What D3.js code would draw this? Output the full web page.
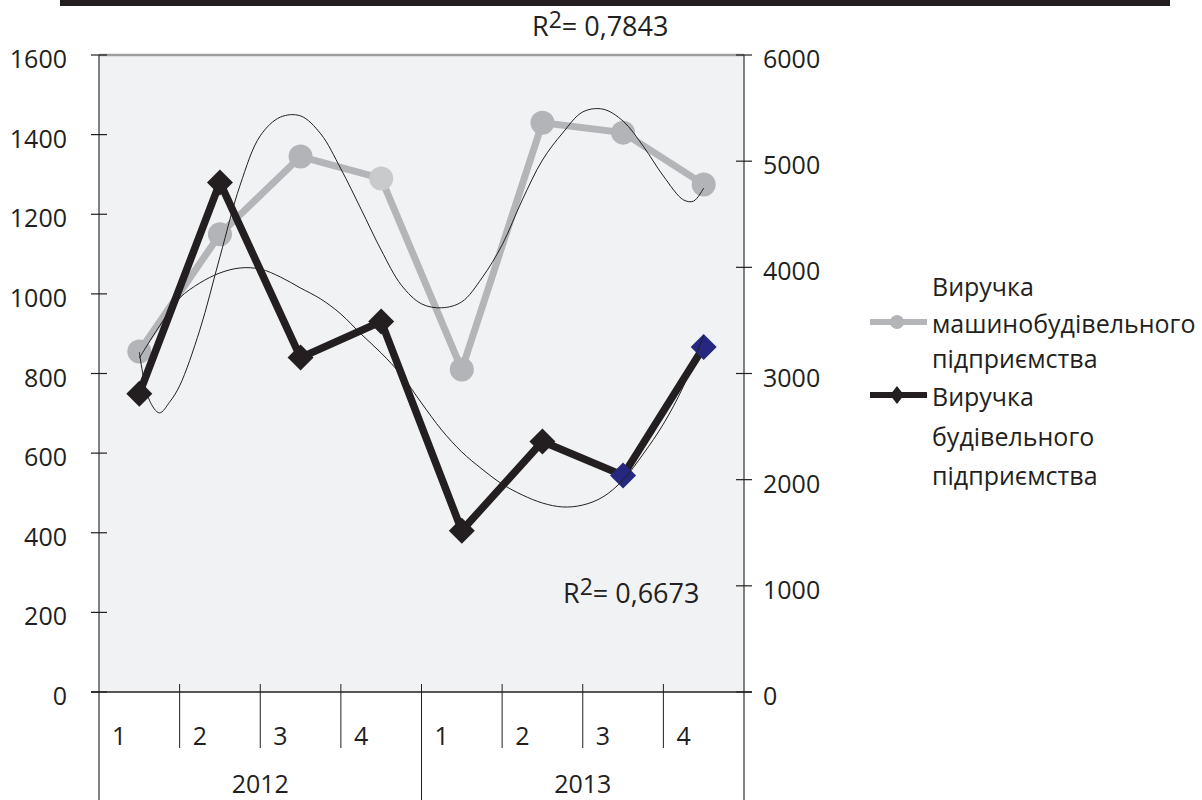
<!DOCTYPE html>
<html>
<head>
<meta charset="utf-8">
<script src="https://cdn.jsdelivr.net/npm/d3@7"></script>
<style>
  html, body { margin: 0; padding: 0; background: #fff; }
  svg { display: block; }
  text { font-family: "Open Sans", "Noto Sans", sans-serif; fill: #231f20; }
</style>
</head>
<body>
<svg id="chart" width="1202" height="800"></svg>
<script>
// ---- Data ----
const quarters = ["1", "2", "3", "4", "1", "2", "3", "4"];
const years = ["2012", "2013"];
const machineRevenue = [855, 1150, 1345, 1290, 810, 1430, 1405, 1275];      // left axis
const constructionRevenue = [2810, 4800, 3150, 3490, 1520, 2360, 2040, 3250]; // right axis
const leftTicks = [0, 200, 400, 600, 800, 1000, 1200, 1400, 1600];
const rightTicks = [0, 1000, 2000, 3000, 4000, 5000, 6000];
const seriesNames = [["Виручка", "машинобудівельного", "підприємства"],
                     ["Виручка", "будівельного", "підприємства"]];
const r2Machine = "0,7843";
const r2Construction = "0,6673";
// trendline samples (category position, value)
const trendMachineX = [1, 1.125, 1.25, 1.375, 1.5, 1.75, 2, 2.25, 2.5, 2.75, 3, 3.25, 3.5, 3.75, 4, 4.25, 4.5, 4.75, 5, 5.25, 5.5, 5.75, 6, 6.25, 6.5, 6.75, 7, 7.25, 7.5, 7.75, 7.875, 8];
const trendMachineY = [854, 733, 701, 728, 769, 909, 1093, 1273, 1397, 1444, 1447, 1402, 1314, 1213, 1110, 1022, 975, 965, 980, 1040, 1123, 1236, 1336, 1404, 1457, 1464, 1434, 1371, 1296, 1236, 1233, 1266];
const trendConstrX = [1, 1.25, 1.5, 1.75, 2, 2.25, 2.5, 2.75, 3, 3.25, 3.5, 3.75, 4, 4.25, 4.5, 4.75, 5, 5.25, 5.5, 5.75, 6, 6.25, 6.5, 6.75, 7, 7.25, 7.5, 7.75, 8];
const trendConstrY = [3146, 3447, 3711, 3852, 3947, 3994, 3984, 3909, 3805, 3702, 3560, 3372, 3193, 2986, 2722, 2468, 2261, 2100, 1959, 1856, 1780, 1743, 1761, 1837, 1997, 2242, 2524, 2882, 3363];

// ---- Styles ----
const grayLine = "#b4b5b8";
const machinePointColors = ["#b3b4b7", "#b3b4b7", "#b3b4b7", "#c9cacc", "#b3b4b7", "#b3b4b7", "#b3b4b7", "#b3b4b7"];
const darkLine = "#231f20";
const constrPointColors = ["#231f20", "#231f20", "#231f20", "#231f20", "#231f20", "#231f20", "#25287e", "#25287e"];
const FS = 25;
const FS_R2 = 27;

const svg = d3.select("#chart");
const L = 99, R = 744, T = 55, B = 692;

const x = d3.scaleBand().domain(d3.range(quarters.length)).range([L, R]).padding(0);
const bw = x.bandwidth();
const cx = i => x(i) + bw / 2;
const xt = d3.scaleLinear().domain([1, quarters.length]).range([cx(0), cx(quarters.length - 1)]);
const yL = d3.scaleLinear().domain([0, 1600]).range([B, T]);
const yR = d3.scaleLinear().domain([0, 6000]).range([B, T]);

// top black rule
svg.append("rect").attr("x", 60).attr("y", 0).attr("width", 1110).attr("height", 6).attr("fill", "#231f20");

// plot background
svg.append("rect").attr("x", L).attr("y", T).attr("width", R - L).attr("height", B - T).attr("fill", "#f1f2f4");
svg.append("line").attr("x1", L).attr("x2", R).attr("y1", T).attr("y2", T).attr("stroke", "#9d9ea0").attr("stroke-width", 2.5);

// left axis
svg.append("line").attr("x1", L).attr("x2", L).attr("y1", T).attr("y2", 800).attr("stroke", "#58595b").attr("stroke-width", 1.5);
svg.selectAll(".lt").data(leftTicks).enter().append("line")
  .attr("x1", L - 8).attr("x2", L + 8).attr("y1", d => yL(d)).attr("y2", d => yL(d))
  .attr("stroke", "#231f20").attr("stroke-width", 1.2);
svg.selectAll(".ltl").data(leftTicks).enter().append("text")
  .attr("x", 67).attr("y", d => yL(d) + 3).attr("text-anchor", "end")
  .attr("dominant-baseline", "central").attr("font-size", FS).text(d => d);

// right axis
svg.append("line").attr("x1", R).attr("x2", R).attr("y1", T).attr("y2", 800).attr("stroke", "#58595b").attr("stroke-width", 1.5);
svg.selectAll(".rt").data(rightTicks).enter().append("line")
  .attr("x1", R - 8).attr("x2", R + 8).attr("y1", d => yR(d)).attr("y2", d => yR(d))
  .attr("stroke", "#231f20").attr("stroke-width", 1.2);
svg.selectAll(".rtl").data(rightTicks).enter().append("text")
  .attr("x", 763).attr("y", d => yR(d) + 3).attr("text-anchor", "start")
  .attr("dominant-baseline", "central").attr("font-size", FS).text(d => d);

// bottom axis
svg.append("line").attr("x1", L - 8).attr("x2", R + 8).attr("y1", B).attr("y2", B).attr("stroke", "#231f20").attr("stroke-width", 1.5);
// quarter separators
svg.selectAll(".qs").data(d3.range(1, quarters.length).filter(i => i !== 4)).enter().append("line")
  .attr("x1", d => x(d)).attr("x2", d => x(d)).attr("y1", B - 8).attr("y2", 748)
  .attr("stroke", "#231f20").attr("stroke-width", 1);
// year separator in the middle
svg.append("line").attr("x1", x(4)).attr("x2", x(4)).attr("y1", B - 8).attr("y2", 800).attr("stroke", "#231f20").attr("stroke-width", 1);
svg.selectAll(".ql").data(quarters).enter().append("text")
  .attr("x", (d, i) => x(i) + 13).attr("y", 735).attr("dominant-baseline", "central")
  .attr("font-size", FS).text(d => d);
svg.selectAll(".yl").data(years).enter().append("text")
  .attr("x", (d, i) => (x(i * 4) + (i * 4 + 4 < quarters.length ? x(i * 4 + 4) : R)) / 2)
  .attr("y", 783).attr("text-anchor", "middle").attr("dominant-baseline", "central")
  .attr("font-size", FS).text(d => d);

// series lines
const lineL = d3.line().x((d, i) => cx(i)).y(d => yL(d));
const lineR = d3.line().x((d, i) => cx(i)).y(d => yR(d));
svg.append("path").datum(machineRevenue).attr("d", lineL).attr("fill", "none")
  .attr("stroke", grayLine).attr("stroke-width", 7).attr("stroke-linejoin", "round");
svg.selectAll(".mp").data(machineRevenue).enter().append("circle")
  .attr("cx", (d, i) => cx(i)).attr("cy", d => yL(d)).attr("r", 12)
  .attr("fill", (d, i) => machinePointColors[i]);

svg.append("path").datum(constructionRevenue).attr("d", lineR).attr("fill", "none")
  .attr("stroke", darkLine).attr("stroke-width", 7.5).attr("stroke-linejoin", "miter");
const dia = (px, py, w, h) => `M${px},${py - h}L${px + w},${py}L${px},${py + h}L${px - w},${py}Z`;
svg.selectAll(".cp").data(constructionRevenue).enter().append("path")
  .attr("d", (d, i) => dia(cx(i), yR(d), 13, 13))
  .attr("fill", (d, i) => constrPointColors[i]);

// trendlines
const tL = d3.line().x(d => xt(d[0])).y(d => yL(d[1])).curve(d3.curveCatmullRom);
const tR = d3.line().x(d => xt(d[0])).y(d => yR(d[1])).curve(d3.curveCatmullRom);
svg.append("path").datum(d3.zip(trendMachineX, trendMachineY)).attr("d", tL)
  .attr("fill", "none").attr("stroke", "#231f20").attr("stroke-width", 1);
svg.append("path").datum(d3.zip(trendConstrX, trendConstrY)).attr("d", tR)
  .attr("fill", "none").attr("stroke", "#231f20").attr("stroke-width", 1);

// R² labels
function r2Label(xPos, yPos, val) {
  const t = svg.append("text").attr("x", xPos).attr("y", yPos).attr("font-size", FS_R2);
  t.append("tspan").text("R");
  t.append("tspan").attr("dy", -8).attr("font-size", FS_R2 * 0.85).text("2");
  t.append("tspan").attr("dy", 8).text("= " + val);
}
r2Label(532, 36, r2Machine);
r2Label(563, 603, r2Construction);

// legend
const lg = svg.append("g");
lg.append("line").attr("x1", 870).attr("x2", 927).attr("y1", 322).attr("y2", 322).attr("stroke", grayLine).attr("stroke-width", 6);
lg.append("circle").attr("cx", 897).attr("cy", 322).attr("r", 7).attr("fill", "#b3b4b7");
lg.append("line").attr("x1", 870).attr("x2", 927).attr("y1", 395).attr("y2", 395).attr("stroke", darkLine).attr("stroke-width", 6);
lg.append("path").attr("d", dia(897, 395, 7, 9)).attr("fill", darkLine);
const legendBaselines = [[296, 333, 368], [406, 446, 485]];
seriesNames.forEach((lines, si) => {
  lines.forEach((ln, li) => {
    lg.append("text").attr("x", 932).attr("y", legendBaselines[si][li]).attr("font-size", FS).text(ln);
  });
});
</script>
</body>
</html>
